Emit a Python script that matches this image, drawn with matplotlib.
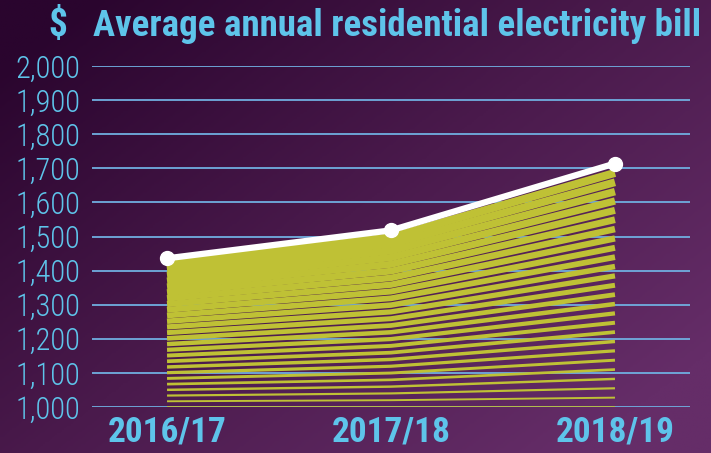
import numpy as np
import matplotlib
matplotlib.use("Agg")
import matplotlib.pyplot as plt
from matplotlib.colors import LinearSegmentedColormap

plt.rcParams['font.family'] = ['Roboto Condensed', 'Archivo Narrow', 'DejaVu Sans']

# data
years = ['2016/17', '2017/18', '2018/19']
bill = [1436, 1518, 1714]
y_ticks = [1000, 1100, 1200, 1300, 1400, 1500, 1600, 1700, 1800, 1900, 2000]
title = 'Average annual residential electricity bill'

blue = '#5ec4ea'
stripe = '#bfc135'

fig = plt.figure(figsize=(7.11, 4.53), dpi=100)

# background gradient (dark top-left -> lighter purple bottom-right)
bg = fig.add_axes([0, 0, 1, 1], zorder=-10)
gx, gy = np.meshgrid(np.linspace(0, 1, 300), np.linspace(0, 1, 200))
t = np.clip(0.65 * gx + 0.55 * gy - 0.08, 0, 1)
cmap = LinearSegmentedColormap.from_list('bg', ['#2a052e', '#4a1a4c', '#652d68'])
bg.imshow(t, cmap=cmap, aspect='auto', extent=[0, 1, 0, 1], origin='upper')
bg.axis('off')

ax = fig.add_axes([92 / 711, 46 / 453, 598 / 711, 341 / 453])
ax.set_facecolor('none')
x = np.arange(len(years))
bill = np.array(bill)

# striped fill: lines fanning from the 1,000 baseline, thicker toward the top
n = 26
for k in range(n):
    f = k / n
    lw = 1.2 + 4.6 * k / (n - 1)
    ax.plot(x, 1000 + (bill - 1000) * f, color=stripe, lw=lw,
            solid_capstyle='butt', zorder=3)

ax.plot(x, bill, color='white', lw=4.5, marker='o', ms=10,
        solid_capstyle='round', zorder=5, clip_on=False)

ax.set_xlim(-0.335, 2.335)
ax.set_ylim(1000, 2000)
ax.set_yticks(y_ticks)
ax.set_yticklabels(['{:,}'.format(v) for v in y_ticks], fontweight='light')
ax.set_xticks(x)
ax.set_xticklabels(years, fontweight='bold')
ax.grid(axis='y', color='#70aee0', lw=1.3, zorder=1)
ax.set_axisbelow(True)
for s in ax.spines.values():
    s.set_visible(False)
ax.tick_params(axis='y', length=0, pad=8.5, labelsize=22, labelcolor=blue)
ax.tick_params(axis='x', length=0, pad=6, labelsize=25.5, labelcolor=blue)

fig.text(48 / 711, 1 - 36 / 453, '$', color=blue, fontsize=27,
         fontweight='bold', va='baseline')
fig.text(93 / 711, 1 - 36 / 453, title, color=blue, fontsize=26.6,
         fontweight='bold', va='baseline')

fig.savefig('out.png', dpi=100)
